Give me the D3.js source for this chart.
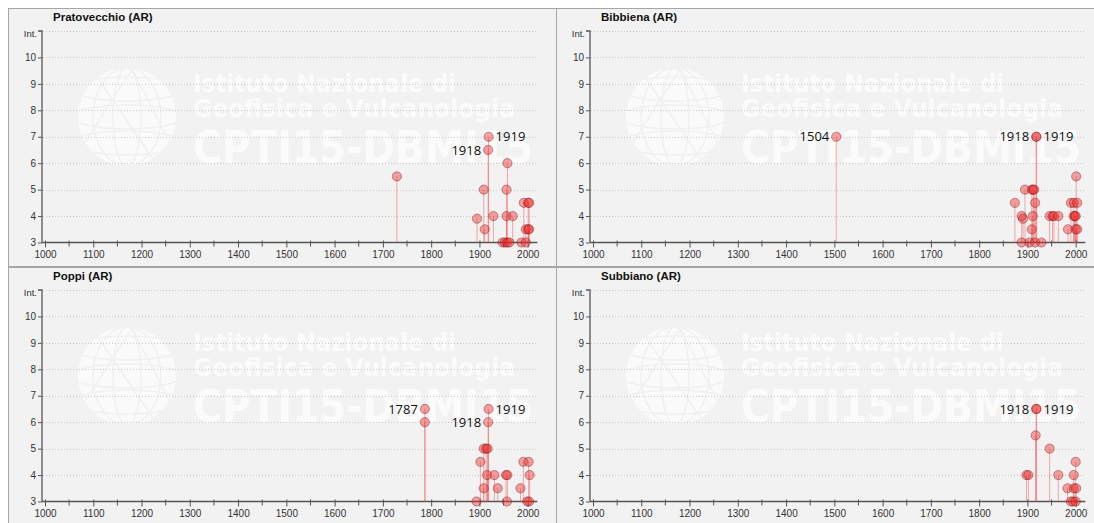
<!DOCTYPE html>
<html><head><meta charset="utf-8">
<script src="https://cdn.jsdelivr.net/npm/d3@7"></script>
<style>body{margin:0;background:#fff;} svg{display:block;}</style>
</head><body>
<script>
// ---------- DATA ----------
const placeNames = ["Pratovecchio (AR)", "Bibbiena (AR)", "Poppi (AR)", "Subbiano (AR)"];

const pratovecchioYears = [1729, 1895, 1909, 1911, 1918, 1919, 1929, 1948, 1953, 1956, 1956, 1958, 1958, 1962, 1969, 1987, 1992, 1996, 1996, 2001, 2001, 2003, 2003];
const pratovecchioInt   = [5.5, 3.9, 5, 3.5, 6.5, 7, 4, 3, 3, 5, 4, 6, 3, 3, 4, 3, 4.5, 3.5, 3, 4.5, 3.5, 4.5, 3.5];
const pratovecchioLabels = [[1918, "left"], [1919, "right"]];

const bibbienaYears = [1504, 1874, 1888, 1891, 1888, 1895, 1904, 1909, 1912, 1914, 1909, 1911, 1916, 1916, 1918, 1919, 1929, 1946, 1952, 1955, 1964, 1984, 1990, 1996, 2003, 1996, 1998, 2000, 2000, 2003, 2001];
const bibbienaInt   = [7, 4.5, 4, 3.9, 3, 5, 3, 5, 5, 5, 3.5, 4, 3, 4.5, 7, 7, 3, 4, 4, 4, 4, 3.5, 4.5, 4.5, 4.5, 4, 4, 4, 3.5, 3.5, 5.5];
const bibbienaLabels = [[1504, "left"], [1918, "left"], [1919, "right"]];

const poppiYears = [1787, 1787, 1894, 1902, 1909, 1909, 1914, 1916, 1917, 1918, 1919, 1931, 1938, 1955, 1957, 1958, 1985, 1991, 1999, 2002, 2003, 2004];
const poppiInt   = [6.5, 6, 3, 4.5, 5, 3.5, 5, 4, 5, 6, 6.5, 4, 3.5, 4, 3, 4, 3.5, 4.5, 3, 4.5, 3, 4];
const poppiLabels = [[1787, "left"], [1918, "left"], [1919, "right"]];

const subbianoYears = [1898, 1902, 1917, 1918, 1919, 1946, 1964, 1983, 1990, 1995, 1996, 1996, 2000, 2000, 2001];
const subbianoInt   = [4, 4, 5.5, 6.5, 6.5, 5, 4, 3.5, 3, 3, 4, 3.5, 4.5, 3, 3.5];
const subbianoLabels = [[1918, "left"], [1919, "right"]];

const xTickValues = [1000, 1100, 1200, 1300, 1400, 1500, 1600, 1700, 1800, 1900, 2000];
const yTickValues = [3, 4, 5, 6, 7, 8, 9, 10];
const yTopLabel = "Int.";
const watermarkLines = ["Istituto Nazionale di", "Geofisica e Vulcanologia", "CPTI15-DBMI15"];

// ---------- DRAW ----------
const W = 1094, H = 523;
const svg = d3.select("body").append("svg").attr("width", W).attr("height", H);
const defs = svg.append("defs");

const panelData = [
  {name: placeNames[0], years: pratovecchioYears, ints: pratovecchioInt, labels: pratovecchioLabels},
  {name: placeNames[1], years: bibbienaYears, ints: bibbienaInt, labels: bibbienaLabels},
  {name: placeNames[2], years: poppiYears, ints: poppiInt, labels: poppiLabels},
  {name: placeNames[3], years: subbianoYears, ints: subbianoInt, labels: subbianoLabels}
];
const origins = [[0, 0], [548, 0], [0, 259], [548, 259]];

panelData.forEach((p, i) => {
  const [ox, oy] = origins[i];
  const g = svg.append("g").attr("transform", `translate(${ox},${oy})`);
  const pw = i % 2 === 0 ? 548 : 560;
  const ph = i < 2 ? 258 : 280;

  defs.append("clipPath").attr("id", "clip" + i)
    .append("rect").attr("x", 8.5).attr("y", 8.5).attr("width", pw).attr("height", ph);

  g.append("rect").attr("x", 8.5).attr("y", 8.5).attr("width", pw).attr("height", ph)
    .attr("fill", "#f2f2f2").attr("stroke", "#a6a6a6").attr("stroke-width", 1);

  // watermark
  const wm = g.append("g").attr("clip-path", `url(#clip${i})`);
  const gcx = 127, gcy = 117, gr = 49;
  defs.append("clipPath").attr("id", "globe" + i)
    .append("circle").attr("cx", gcx).attr("cy", gcy).attr("r", gr);
  wm.append("circle").attr("cx", gcx).attr("cy", gcy).attr("r", gr)
    .attr("fill", "#fafafa");
  const gl = wm.append("g").attr("clip-path", `url(#globe${i})`)
    .attr("fill", "none").attr("stroke", "#f0f0f0").attr("stroke-width", 1.4);
  [14, 34].forEach(rx => gl.append("ellipse").attr("cx", gcx).attr("cy", gcy).attr("rx", rx).attr("ry", gr));
  [-28, 0, 26].forEach(dy => gl.append("ellipse").attr("cx", gcx).attr("cy", gcy + dy).attr("rx", gr + 6).attr("ry", 12));
  gl.append("path").attr("d", `M${gcx-45},${gcy+30} L${gcx+5},${gcy-48} L${gcx+45},${gcy+30}`);
  gl.append("path").attr("d", `M${gcx-30},${gcy-40} L${gcx+30},${gcy+48}`);
  const wt = wm.append("g").attr("fill", "#fbfbfb").attr("font-family", "DejaVu Sans").attr("font-weight", "bold");
  wt.append("text").attr("x", 193).attr("y", 92).attr("font-size", 25)
    .attr("textLength", 263).attr("lengthAdjust", "spacingAndGlyphs").text(watermarkLines[0]);
  wt.append("text").attr("x", 193).attr("y", 117).attr("font-size", 25)
    .attr("textLength", 322).attr("lengthAdjust", "spacingAndGlyphs").text(watermarkLines[1]);
  wt.append("text").attr("x", 193).attr("y", 163).attr("font-size", 44)
    .attr("textLength", 340).attr("lengthAdjust", "spacingAndGlyphs").text(watermarkLines[2]);

  // scales
  const x = d3.scaleLinear().domain([1000, 2000]).range([45, 527.7]);
  const y = d3.scaleLinear().domain([3, 11]).range([242.5, 31]);
  const xEnd = x(2020);

  // title
  g.append("text").attr("x", 53).attr("y", 21).attr("font-family", "Liberation Sans, Arial")
    .attr("font-weight", "bold").attr("font-size", 11.5).attr("fill", "#111").text(p.name);

  // gridlines
  g.append("g").selectAll("line").data([4, 5, 6, 7, 8, 9, 10, 11]).join("line")
    .attr("x1", 43).attr("x2", xEnd).attr("y1", d => Math.round(y(d)) + 0.5).attr("y2", d => Math.round(y(d)) + 0.5)
    .attr("stroke", "#c9c9c9").attr("stroke-dasharray", "1,2").attr("stroke-width", 1);

  // y axis
  const yAxisG = g.append("g").attr("transform", "translate(42,0)");
  yAxisG.call(d3.axisLeft(y).tickValues(yTickValues).tickSize(4).tickFormat(d3.format("d")));
  yAxisG.select(".domain").attr("d", `M-4,${y(11)}H0V${y(3)}`).attr("stroke", "#555").attr("stroke-width", 1.3);
  yAxisG.selectAll(".tick line").attr("stroke", "#555");
  yAxisG.selectAll(".tick text").attr("font-family", "Liberation Sans, Arial").attr("font-size", 10).attr("fill", "#333").attr("x", -6);
  yAxisG.append("text").attr("x", -5).attr("y", y(11)).attr("dy", "0.6em").attr("text-anchor", "end")
    .attr("font-family", "Liberation Sans, Arial").attr("font-size", 9.5).attr("fill", "#333").text(yTopLabel);

  // x axis
  const xAxisG = g.append("g").attr("transform", `translate(0,${y(3)})`);
  xAxisG.call(d3.axisBottom(x).tickValues(xTickValues).tickSize(5).tickFormat(d3.format("d")));
  xAxisG.select(".domain").attr("d", `M42,0H${xEnd}`).attr("stroke", "#555").attr("stroke-width", 1.3);
  xAxisG.selectAll(".tick line").attr("stroke", "#555").attr("y1", -2);
  xAxisG.selectAll(".tick text").attr("font-family", "Liberation Sans, Arial").attr("font-size", 10).attr("fill", "#333").attr("y", 8);
  xAxisG.append("g").selectAll("line").data(d3.range(1050, 2001, 100)).join("line")
    .attr("x1", d => x(d)).attr("x2", d => x(d)).attr("y1", -2).attr("y2", 4).attr("stroke", "#555");

  // data
  const pts = p.years.map((yr, k) => ({year: yr, int: p.ints[k]}));
  g.append("g").selectAll("line").data(pts).join("line")
    .attr("x1", d => x(d.year)).attr("x2", d => x(d.year))
    .attr("y1", d => y(d.int)).attr("y2", y(3))
    .attr("stroke", "rgba(238,70,70,0.45)").attr("stroke-width", 1);
  g.append("g").selectAll("circle").data(pts).join("circle")
    .attr("cx", d => x(d.year)).attr("cy", d => y(d.int)).attr("r", 4.6)
    .attr("fill", "rgba(240,40,40,0.42)").attr("stroke", "rgba(120,10,10,0.45)").attr("stroke-width", 0.9);

  // labels
  p.labels.forEach(([yr, side]) => {
    const m = d3.max(pts.filter(d => d.year === yr), d => d.int);
    g.append("text")
      .attr("x", x(yr) + (side === "left" ? -7 : 7))
      .attr("y", y(m)).attr("dy", "0.36em")
      .attr("text-anchor", side === "left" ? "end" : "start")
      .attr("font-family", "Open Sans").attr("font-size", 13).attr("fill", "#111").text(yr);
  });
});
</script>
</body></html>
